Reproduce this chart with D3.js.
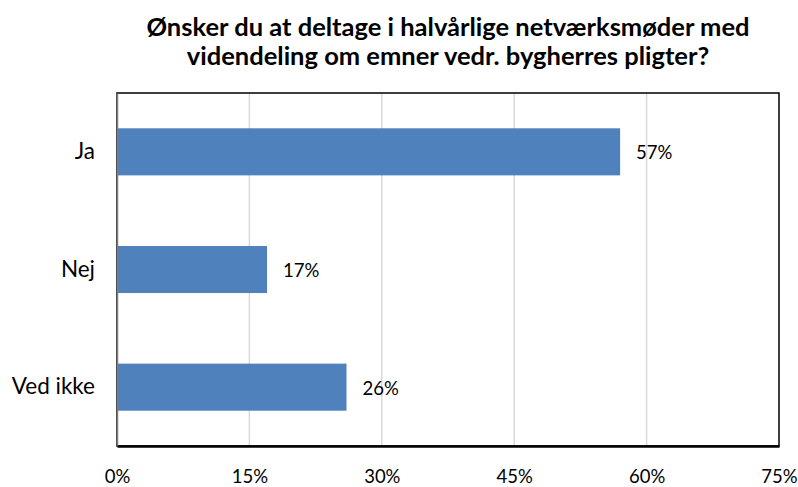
<!DOCTYPE html>
<html>
<head>
<meta charset="utf-8">
<script src="https://cdn.jsdelivr.net/npm/d3@7"></script>
<style>
  body { margin: 0; background: #fff; }
  text { font-family: Lato, "Open Sans", sans-serif; fill: #000; }
</style>
</head>
<body>
<div id="chart"></div>
<script>
let width = 798;
let height = 487;

const titleLines = [
  "Ønsker du at deltage i halvårlige netværksmøder med",
  "videndeling om emner vedr. bygherres pligter?"
];
const categories = ["Ja", "Nej", "Ved ikke"];
const values = [57, 17, 26];
const ticks = [0, 15, 30, 45, 60, 75];

// plot area box
const plot = { left: 117, top: 93, right: 779, bottom: 446 };

const svg = d3.select("#chart")
  .append("svg")
  .attr("width", width)
  .attr("height", height);

// Title
svg.selectAll("text.title")
  .data(titleLines)
  .enter()
  .append("text")
  .attr("class", "title")
  .attr("x", 448)
  .attr("y", (d, i) => 36 + i * 29)
  .attr("text-anchor", "middle")
  .attr("font-size", "25.5px")
  .attr("font-weight", "bold")
  .text(d => d);

const x = d3.scaleLinear()
  .domain([0, 75])
  .range([plot.left, plot.right]);

const y = d3.scaleBand()
  .domain(categories)
  .range([plot.top, plot.bottom])
  .paddingInner(0.6)
  .paddingOuter(0.3);

// Gridlines
svg.selectAll("line.grid")
  .data(ticks.slice(1, -1))
  .enter()
  .append("line")
  .attr("class", "grid")
  .attr("x1", d => x(d))
  .attr("x2", d => x(d))
  .attr("y1", plot.top)
  .attr("y2", plot.bottom)
  .style("stroke", "#d9d9d9")
  .style("stroke-width", 1.5);

// Bars
svg.selectAll("rect.bar")
  .data(values)
  .enter()
  .append("rect")
  .attr("class", "bar")
  .attr("x", x(0))
  .attr("y", (d, i) => y(categories[i]))
  .attr("width", d => x(d) - x(0))
  .attr("height", y.bandwidth())
  .attr("fill", "#4f81bd");

// Value labels
svg.selectAll("text.label")
  .data(values)
  .enter()
  .append("text")
  .attr("class", "label")
  .attr("x", d => x(d) + 16)
  .attr("y", (d, i) => y(categories[i]) + y.bandwidth() / 2)
  .attr("dy", "0.4em")
  .attr("font-size", "18.5px")
  .text(d => d + "%");

// Plot border
svg.append("rect")
  .attr("x", plot.left)
  .attr("y", plot.top)
  .attr("width", plot.right - plot.left)
  .attr("height", plot.bottom - plot.top)
  .attr("fill", "none")
  .attr("stroke", "#000")
  .attr("stroke-width", 1.5);

// Left axis (categories)
const yAxis = svg.append("g")
  .attr("transform", `translate(${plot.left}, 0)`)
  .call(d3.axisLeft(y).tickSize(0).tickPadding(22));
yAxis.select(".domain").attr("stroke", "#7f7f7f").attr("stroke-width", 1.5);
yAxis.selectAll("text").attr("font-size", "22.5px").style("font-family", "Lato, 'Open Sans', sans-serif").attr("fill", "#000");

// Bottom axis
const xAxis = svg.append("g")
  .attr("transform", `translate(0, ${plot.bottom})`)
  .call(d3.axisBottom(x).tickValues(ticks).tickFormat(d => d + "%").tickSize(0).tickPadding(24));
xAxis.select(".domain").attr("stroke", "#000").attr("stroke-width", 2.5);
xAxis.selectAll("text").attr("font-size", "18.5px").style("font-family", "Lato, 'Open Sans', sans-serif").attr("fill", "#000");
</script>
</body>
</html>
